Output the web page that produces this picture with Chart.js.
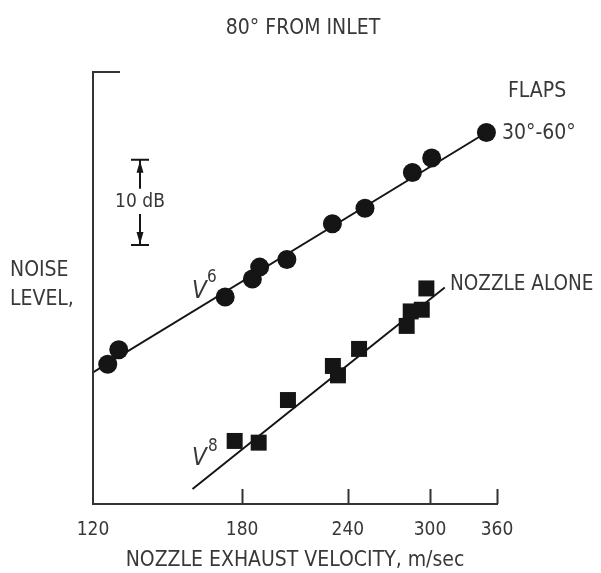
<!DOCTYPE html>
<html>
<head>
<meta charset="utf-8">
<script src="https://cdn.jsdelivr.net/npm/chart.js@4.4.0/dist/chart.umd.min.js"></script>
<style>
  html, body { margin: 0; padding: 0; background: #fff; }
  #wrap { width: 601px; height: 573px; }
</style>
</head>
<body>
<div id="wrap"><canvas id="chart" width="601" height="573"></canvas></div>
<script>
/* ---- data ---- */
const tickValues = [120, 180, 240, 300, 360];

// flaps 30-60 deg (circles), velocity m/sec and relative level dB
const flapsVelocity = [124.9, 128.7, 171.9, 185.1, 188.8, 203.3, 230.1, 251.4, 286.0, 301.4, 349.8];
const flapsLevel = [16.4, 18.1, 24.3, 26.4, 27.8, 28.7, 32.9, 34.7, 38.9, 40.6, 43.6];

// nozzle alone (squares)
const nozzleVelocity = [176.4, 188.3, 203.9, 230.4, 233.6, 247.4, 281.6, 284.7, 293.4, 297.1];
const nozzleLevel = [7.4, 7.2, 12.2, 16.2, 15.1, 18.2, 20.9, 22.6, 22.8, 25.3];

// fitted lines V^6 and V^8 (end points)
const v6Velocity = [120, 349.8];
const v6Level = [15.45, 43.6];
const v8Velocity = [157.3, 312.3];
const v8Level = [1.76, 25.4];

// 10 dB scale bar
const scaleBarLevel = [30.4, 40.4];

const ink = '#151515';
const textInk = '#383838';
const fontFamily = '"DejaVu Sans Condensed", "Liberation Sans Narrow", sans-serif';

function toPoints(xs, ys) {
  return xs.map((x, i) => ({ x: x, y: ys[i] }));
}

/* ---- axes, ticks, scale bar and labels ---- */
const figureDecor = {
  id: 'figureDecor',
  afterDatasetsDraw(chart) {
    const ctx = chart.ctx;
    const area = chart.chartArea;
    const xs = chart.scales.x;
    const ys = chart.scales.y;

    ctx.save();
    ctx.strokeStyle = '#333';
    ctx.lineWidth = 2;

    // left axis with short cap at the top
    ctx.beginPath();
    ctx.moveTo(area.left, area.bottom);
    ctx.lineTo(area.left, area.top);
    ctx.lineTo(area.left + 27, area.top);
    ctx.stroke();

    // tick marks pointing up
    tickValues.slice(1).forEach(v => {
      const px = Math.round(xs.getPixelForValue(v)) + 0.5;
      ctx.beginPath();
      ctx.moveTo(px, area.bottom);
      ctx.lineTo(px, area.bottom - 15);
      ctx.stroke();
    });

    // 10 dB bar
    const bx = 140;
    const yTop = ys.getPixelForValue(scaleBarLevel[1]);
    const yBot = ys.getPixelForValue(scaleBarLevel[0]);
    ctx.strokeStyle = ink;
    ctx.fillStyle = ink;
    ctx.lineWidth = 2;
    ctx.beginPath();
    ctx.moveTo(bx - 9, yTop); ctx.lineTo(bx + 9, yTop);
    ctx.moveTo(bx - 9, yBot); ctx.lineTo(bx + 9, yBot);
    ctx.moveTo(bx, yTop); ctx.lineTo(bx, yTop + 29);
    ctx.moveTo(bx, yBot); ctx.lineTo(bx, yBot - 31);
    ctx.stroke();
    ctx.beginPath();
    ctx.moveTo(bx, yTop + 1); ctx.lineTo(bx - 3.5, yTop + 13); ctx.lineTo(bx + 3.5, yTop + 13);
    ctx.closePath();
    ctx.moveTo(bx, yBot - 1); ctx.lineTo(bx - 3.5, yBot - 13); ctx.lineTo(bx + 3.5, yBot - 13);
    ctx.closePath();
    ctx.fill();

    // text labels
    ctx.fillStyle = textInk;
    ctx.textBaseline = 'middle';
    ctx.textAlign = 'center';
    ctx.font = '21px ' + fontFamily;
    ctx.fillText('80° FROM INLET', 303, 29);
    ctx.textAlign = 'left';
    ctx.fillText('FLAPS', 508, 92);
    ctx.fillText('30°-60°', 502, 134);
    ctx.fillText('NOISE', 10, 271);
    ctx.fillText('LEVEL,', 10, 300);
    ctx.font = '20.5px ' + fontFamily;
    ctx.fillText('NOZZLE ALONE', 450, 285);
    ctx.textAlign = 'center';
    ctx.font = '19px ' + fontFamily;
    ctx.fillText('10 dB', 140, 202);

    ctx.textAlign = 'left';
    ctx.font = 'italic 24px ' + fontFamily;
    ctx.fillText('V', 192, 292);
    ctx.fillText('V', 192, 459);
    ctx.font = '17px ' + fontFamily;
    ctx.fillText('6', 207, 278);
    ctx.fillText('8', 208, 447);

    ctx.restore();
  }
};

new Chart(document.getElementById('chart'), {
  type: 'scatter',
  data: {
    datasets: [
      {
        label: 'V6',
        data: toPoints(v6Velocity, v6Level),
        showLine: true,
        borderColor: ink,
        borderWidth: 2,
        pointRadius: 0
      },
      {
        label: 'V8',
        data: toPoints(v8Velocity, v8Level),
        showLine: true,
        borderColor: ink,
        borderWidth: 2,
        pointRadius: 0
      },
      {
        label: 'Flaps 30-60',
        data: toPoints(flapsVelocity, flapsLevel),
        pointStyle: 'circle',
        pointRadius: 9.5,
        backgroundColor: ink,
        borderColor: ink,
        borderWidth: 0
      },
      {
        label: 'Nozzle alone',
        data: toPoints(nozzleVelocity, nozzleLevel),
        pointStyle: 'rect',
        pointRadius: 11.3,
        backgroundColor: ink,
        borderColor: ink,
        borderWidth: 0
      }
    ]
  },
  options: {
    responsive: false,
    animation: false,
    devicePixelRatio: 1,
    layout: {
      padding: { left: 93, right: 104, top: 72, bottom: 0 }
    },
    plugins: {
      legend: { display: false },
      tooltip: { enabled: false },
      title: { display: false }
    },
    scales: {
      x: {
        type: 'logarithmic',
        min: 120,
        max: 360,
        afterBuildTicks: scale => {
          scale.ticks = tickValues.map(v => ({ value: v }));
        },
        grid: { display: false, drawTicks: false },
        border: { display: true, color: '#333', width: 2 },
        ticks: {
          autoSkip: false,
          maxRotation: 0,
          padding: 15,
          color: textInk,
          font: { family: fontFamily, size: 19 },
          callback: v => String(v)
        },
        title: {
          display: true,
          text: 'NOZZLE EXHAUST VELOCITY, m/sec',
          color: textInk,
          font: { family: fontFamily, size: 21 },
          padding: { top: -9, bottom: 0 }
        }
      },
      y: {
        type: 'linear',
        min: 0,
        max: 50.7,
        display: false
      }
    }
  },
  plugins: [figureDecor]
});
</script>
</body>
</html>
